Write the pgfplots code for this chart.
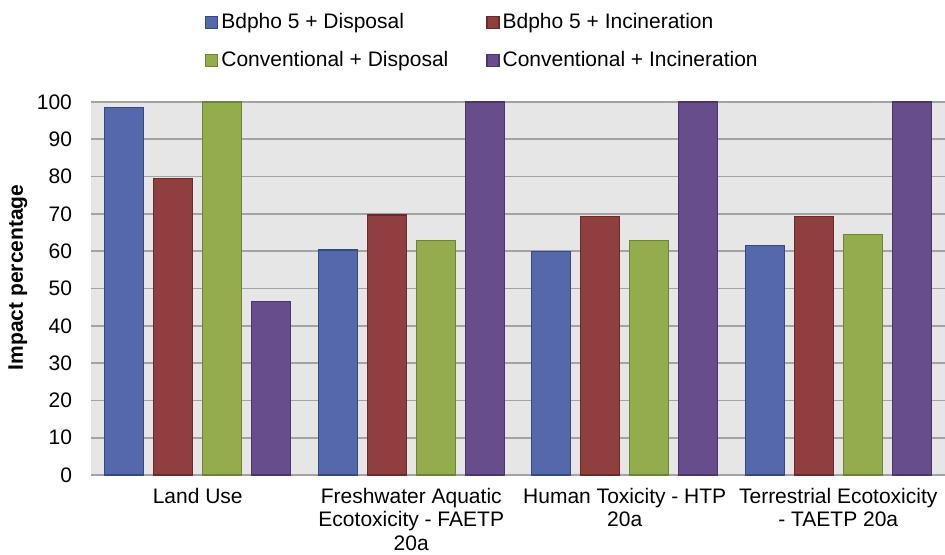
\documentclass[border=0pt]{standalone}
\usepackage{fontspec}
\setmainfont{Liberation Sans}
\usepackage{pgfplots}
\pgfplotsset{compat=1.18}
\definecolor{cb}{HTML}{5468AB}
\definecolor{cbd}{HTML}{34497F}
\definecolor{cr}{HTML}{8F3F3E}
\definecolor{crd}{HTML}{6A2A2A}
\definecolor{cg}{HTML}{93AD4E}
\definecolor{cgd}{HTML}{6C8433}
\definecolor{cp}{HTML}{674D8B}
\definecolor{cpd}{HTML}{4A366B}
\definecolor{bg}{HTML}{E6E6E6}
\definecolor{gridc}{HTML}{A3A3A3}
\begin{document}
\begin{tikzpicture}
\path[use as bounding box] (-45.5pt,-40pt) rectangle (427pt,237.5pt);
\begin{axis}[
  scale only axis,
  width=427pt, height=186.5pt,
  xmin=-0.5, xmax=3.5, ymin=0, ymax=100,
  ytick={0,10,...,100},
  xtick={0,1,2,3},
  xticklabels={Land Use,{Freshwater Aquatic\\Ecotoxicity - FAETP\\20a},{Human Toxicity - HTP\\20a},{Terrestrial Ecotoxicity\\- TAETP 20a}},
  xticklabel style={align=center, font=\fontsize{10.5}{11.8}\selectfont, anchor=north, yshift=-3pt},
  yticklabel style={font=\fontsize{10.5}{12.5}\selectfont, xshift=-6pt},
  /pgf/number format/assume math mode=true,
  major tick length=0pt,
  ymajorgrids,
  grid style={gridc, line width=0.9pt},
  axis line style={draw=none},
  axis background/.style={fill=bg},
  ylabel={Impact percentage},
  ylabel style={font=\fontsize{10.5}{12.5}\selectfont\bfseries, at={(axis description cs:-0.0855,0.53)}, anchor=center},
  ybar=5pt, bar width=19.5pt,
  legend columns=2,
  legend cell align=left,
  legend style={draw=none, fill=none, at={(axis description cs:0.125,1.247)}, anchor=north west, font=\fontsize{10.5}{12.5}\selectfont,
    /tikz/every even column/.append style={column sep=14pt}, row sep=7pt, inner sep=0pt,
    nodes={inner sep=1.5pt}},
  legend image code/.code={\path (0pt,0pt); \draw[#1, line width=0.6pt] (3.5pt,-3pt) rectangle (9.5pt,3pt);},
]
\addplot[fill=cb, draw=cbd, line width=0.6pt] coordinates {(0,98.6) (1,60.3) (2,60.0) (3,61.6)};
\addplot[fill=cr, draw=crd, line width=0.6pt] coordinates {(0,79.4) (1,69.7) (2,69.2) (3,69.2)};
\addplot[fill=cg, draw=cgd, line width=0.6pt] coordinates {(0,100) (1,62.9) (2,62.8) (3,64.5)};
\addplot[fill=cp, draw=cpd, line width=0.6pt] coordinates {(0,46.5) (1,100) (2,100) (3,100)};
\legend{Bdpho 5 + Disposal, Bdpho 5 + Incineration, Conventional + Disposal, Conventional + Incineration}
\end{axis}
\end{tikzpicture}
\end{document}
